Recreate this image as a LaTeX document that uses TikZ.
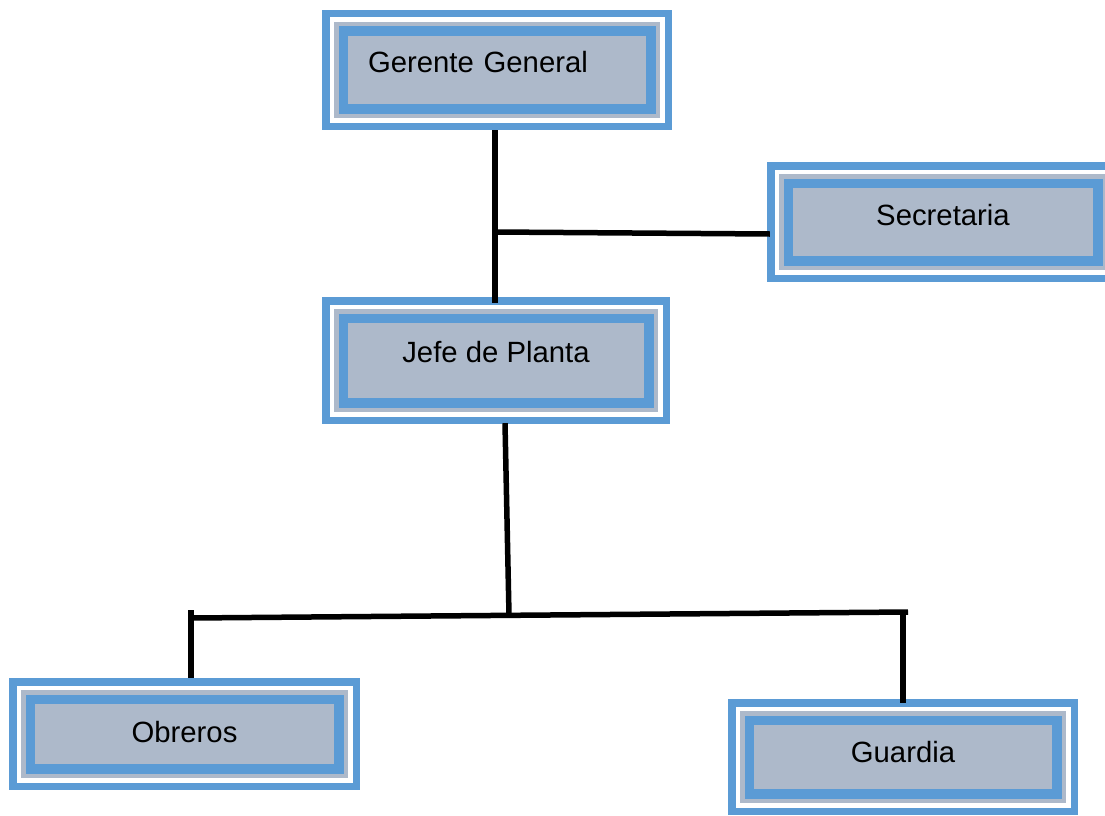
\documentclass[tikz,border=0pt]{standalone}
\usepackage{fontspec}
\setmainfont{Liberation Sans}
\definecolor{boxblue}{HTML}{5B9BD5}
\definecolor{boxgrey}{HTML}{ADB9CA}
\tikzset{
  % framed box: blue rim, white gap, grey band, blue band, grey field
  orgbox/.style={
    rectangle, fill=boxblue, inner sep=0pt, text height=21pt,
    font=\fontsize{29.3}{35}\selectfont,
    path picture={
      \fill[white]   ([shift={(7.5pt,7.5pt)}]path picture bounding box.south west)
                     rectangle ([shift={(-7.5pt,-7.5pt)}]path picture bounding box.north east);
      \fill[boxgrey] ([shift={(12pt,12pt)}]path picture bounding box.south west)
                     rectangle ([shift={(-12pt,-12pt)}]path picture bounding box.north east);
      \fill[boxblue] ([shift={(16.5pt,16.5pt)}]path picture bounding box.south west)
                     rectangle ([shift={(-16.5pt,-16.5pt)}]path picture bounding box.north east);
      \fill[boxgrey] ([shift={(26pt,26pt)}]path picture bounding box.south west)
                     rectangle ([shift={(-26pt,-26pt)}]path picture bounding box.north east);
    }},
  link/.style={line width=5.5pt, black}
}
\begin{document}
\begin{tikzpicture}[x=1pt, y=-1pt]
  \useasboundingbox (0,0) rectangle (1105,816);

  % boxes
  \node[orgbox, minimum width=350pt, minimum height=120pt, text depth=15pt,
        text width=258pt, align=left] (gerente) at (497,70) {Gerente General};
  \node[orgbox, minimum width=352pt, minimum height=120pt, text depth=14pt]
        (secretaria) at (943,222) {Secretaria};
  \node[orgbox, minimum width=348pt, minimum height=127pt, text depth=18pt]
        (jefe) at (496,360.5) {Jefe de Planta};
  \node[orgbox, minimum width=351pt, minimum height=112pt, text depth=4pt]
        (obreros) at (184.5,734) {Obreros};
  \node[orgbox, minimum width=350pt, minimum height=116pt, text depth=10pt]
        (guardia) at (903,757) {Guardia};

  % junction points
  \coordinate (jtop) at (495,232);
  \coordinate (jmid) at (509,615);
  \coordinate (jleft) at (191,618);
  \coordinate (jright) at (908,612);
  \coordinate (tickleft) at (191,610);
  \coordinate (dropright) at (903,615);

  % connectors
  \draw[link] (gerente.south -| jtop) -- ([yshift=-6pt]jefe.north -| jtop);
  \draw[link] (jtop) -- ([xshift=3pt,yshift=-12pt]secretaria.west);
  \draw[link] ([xshift=9pt,yshift=1pt]jefe.south) -- (jmid);
  \draw[link] (jleft) -- (jright);
  \draw[link] (tickleft) -- ([xshift=6.5pt]obreros.north);
  \draw[link] (dropright) -- ([yshift=-4pt]guardia.north);
\end{tikzpicture}
\end{document}
